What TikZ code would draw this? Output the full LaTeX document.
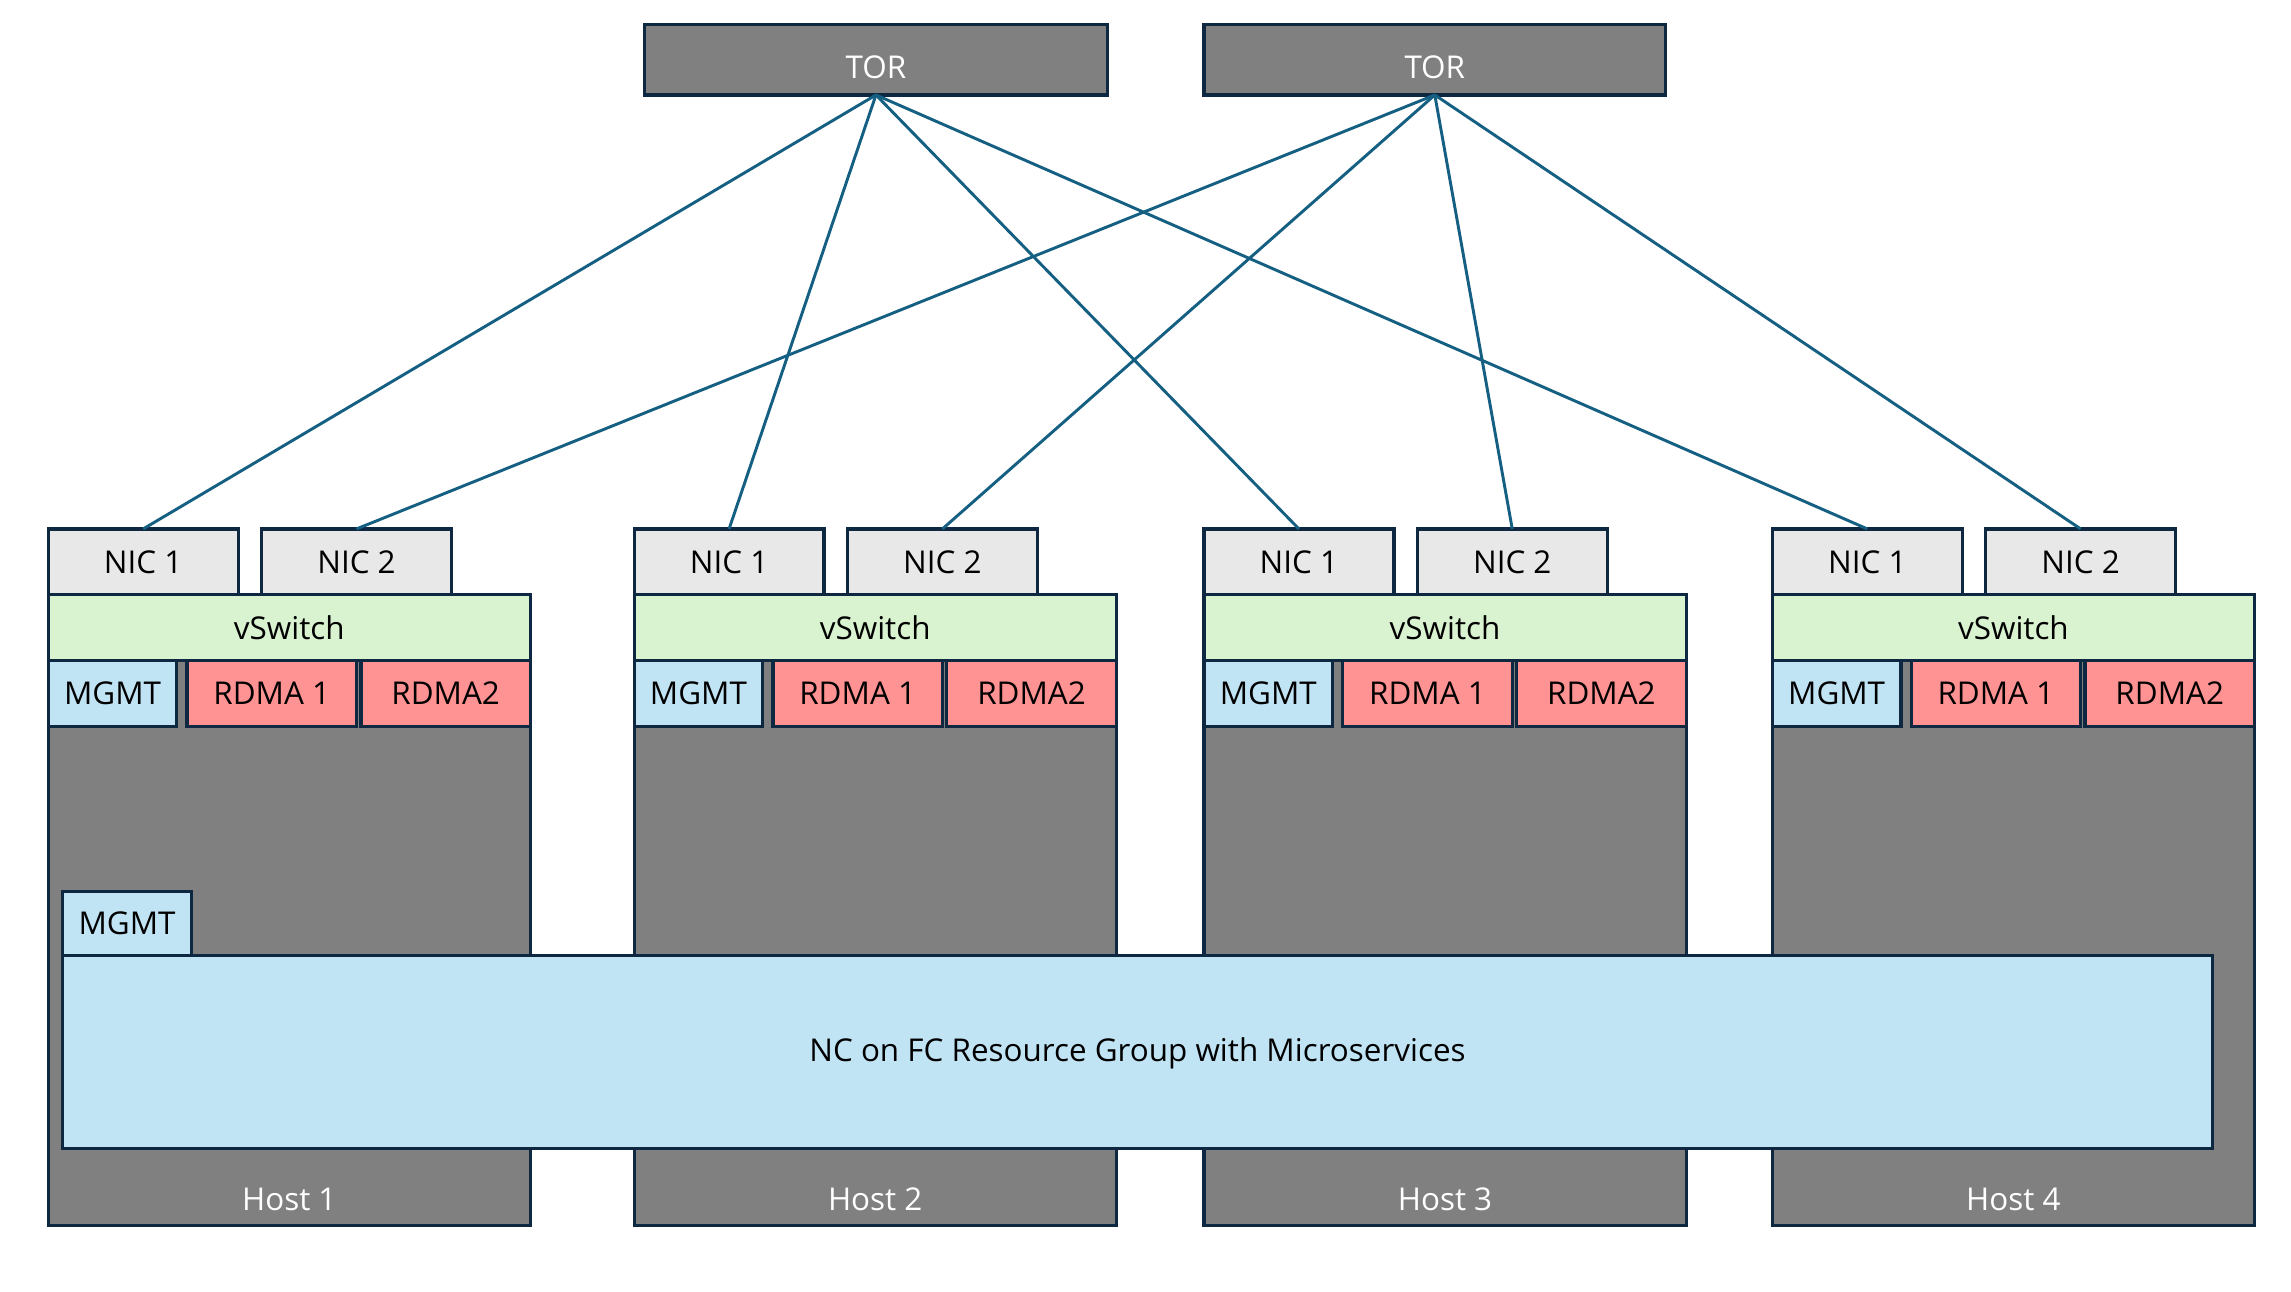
\documentclass[tikz,border=0pt]{standalone}
\usepackage{fontspec}
\setmainfont{Open Sans}
\definecolor{bordc}{HTML}{0E2841}
\definecolor{graybg}{HTML}{808080}
\definecolor{nicbg}{HTML}{E8E8E8}
\definecolor{vsbg}{HTML}{D9F2D0}
\definecolor{mgbg}{HTML}{C1E4F5}
\definecolor{rdbg}{HTML}{FF9393}
\definecolor{linec}{HTML}{156082}
\begin{document}
\begin{tikzpicture}[x=1pt,y=-1pt,
  every node/.style={font=\fontsize{21.5}{25}\selectfont},
  box/.style={draw=bordc, line width=2.2pt, inner sep=0pt, outer sep=0pt, anchor=north west},
  conn/.style={draw=linec, line width=2pt}]
\useasboundingbox (0,0) rectangle (1568,884);
\node[box, fill=graybg, minimum width=317pt, minimum height=48pt] (tor1) at (441,17) {};
\node[box, fill=graybg, minimum width=316pt, minimum height=48pt] (tor2) at (824,17) {};
\node[text=white] (tor1lab) at (599.5,46) {TOR};
\node[text=white] (tor2lab) at (982,46) {TOR};
\foreach \i/\o in {1/0,2/401,3/791,4/1180} {
  \node[box, fill=graybg, minimum width=330pt, minimum height=432pt] (host\i) at (33+\o,407) {};
  \node[text=white] (hostlab\i) at (198+\o,821) {Host \i};
  \node[box, fill=nicbg, minimum width=130pt, minimum height=45pt] (nica\i) at (33+\o,362) {NIC 1};
  \node[box, fill=nicbg, minimum width=130pt, minimum height=45pt] (nicb\i) at (179+\o,362) {NIC 2};
  \node[box, fill=vsbg, minimum width=330pt, minimum height=45pt] (vs\i) at (33+\o,407) {vSwitch};
  \node[box, fill=mgbg, minimum width=88pt, minimum height=45pt] (mg\i) at (33+\o,452) {MGMT};
  \node[box, fill=rdbg, minimum width=116pt, minimum height=45pt] (ra\i) at (128+\o,452) {RDMA 1};
  \node[box, fill=rdbg, minimum width=116pt, minimum height=45pt] (rb\i) at (247+\o,452) {RDMA2};
}
\foreach \i in {1,2,3,4} {
  \draw[conn] (tor1.south) -- (nica\i.north);
  \draw[conn] (tor2.south) -- (nicb\i.north);
}
\node[box, fill=mgbg, minimum width=1471pt, minimum height=132pt] (nc) at (43,654) {};
\node (nclab) at (778.5,721) {NC on FC Resource Group with Microservices};
\node[box, fill=mgbg, minimum width=88pt, minimum height=44pt] (mgnc) at (43,610) {MGMT};
\end{tikzpicture}
\end{document}
